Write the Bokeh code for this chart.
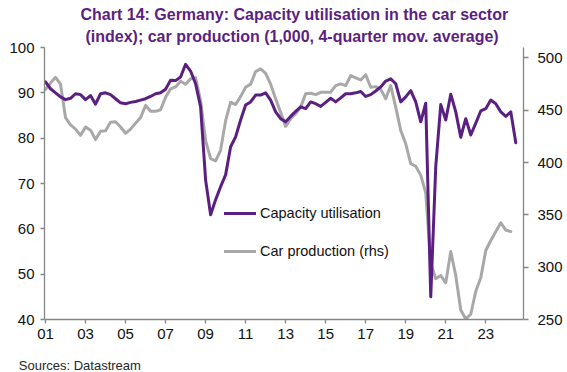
from bokeh.plotting import figure
from bokeh.models import (Range1d, LinearAxis, FixedTicker, Legend, Title,
                          LegendItem, ColumnDataSource)
from bokeh.embed import file_html
from bokeh.resources import INLINE

# ---------------- data (quarterly, from 2001 Q1) ----------------
start_year = 2001
capacity_utilisation = [
    92.4, 90.9, 90.0, 89.1, 88.5, 88.8, 89.8, 89.6, 88.5, 89.4,
    87.5, 89.8, 90.0, 89.6, 88.7, 87.8, 87.6, 87.9, 88.1, 88.4,
    88.7, 89.2, 89.8, 90.0, 90.8, 92.8, 92.7, 93.5, 96.3, 94.8,
    92.0, 86.9, 70.8, 63.1, 66.4, 69.3, 71.9, 78.1, 80.3, 84.0,
    87.3, 88.0, 89.5, 89.5, 90.0, 88.4, 85.8, 84.3, 83.6, 84.8,
    85.9, 86.9, 86.5, 88.0, 87.6, 87.0, 87.9, 88.8, 88.0, 88.9,
    89.8, 89.8, 90.0, 90.3, 89.2, 89.6, 90.4, 91.3, 92.6, 93.1,
    92.0, 88.0, 89.1, 90.5, 88.0, 83.6, 87.7, 45.0, 73.7, 87.4,
    84.0, 89.7, 85.8, 80.2, 84.3, 80.7, 83.3, 86.0, 86.5, 88.4,
    87.6, 85.8, 84.8, 85.8, 79.0,
]
car_production = [
    470.0, 476.0, 481.5, 475.0, 443.0, 436.0, 432.0, 426.0, 434.0, 431.0,
    422.0, 430.0, 430.5, 438.5, 439.0, 434.0, 428.0, 432.0, 437.7, 443.0,
    454.6, 449.0, 449.0, 450.5, 462.5, 470.5, 472.3, 477.7, 474.8, 480.0,
    481.0, 459.0, 421.0, 403.8, 401.6, 411.7, 440.0, 457.7, 455.5, 463.0,
    472.0, 475.0, 487.0, 489.5, 485.3, 475.0, 461.0, 448.0, 434.6, 442.0,
    446.7, 453.0, 465.7, 466.3, 465.0, 467.2, 467.3, 467.3, 473.6, 475.2,
    473.6, 483.1, 481.0, 479.0, 484.0, 472.0, 472.6, 470.0, 461.0, 473.6,
    453.0, 430.8, 418.0, 399.0, 396.5, 388.0, 371.0, 304.0, 289.0, 292.0,
    285.0, 315.0, 292.0, 259.0, 250.5, 255.0, 277.0, 290.0, 316.0, 325.5,
    334.0, 342.5, 335.5, 334.0,
]
x_tick_years = [2001, 2003, 2005, 2007, 2009, 2011, 2013, 2015, 2017, 2019, 2021, 2023]
x_tick_labels = ["01", "03", "05", "07", "09", "11", "13", "15", "17", "19", "21", "23"]
left_ticks = [40, 50, 60, 70, 80, 90, 100]
right_ticks = [250, 300, 350, 400, 450, 500]
title_lines = ["Chart 14: Germany: Capacity utilisation in the car sector",
               "(index); car production (1,000, 4-quarter mov. average)"]
source_text = "Sources: Datastream"
legend_labels = ["Capacity utilisation", "Car production (rhs)"]

cap_dates = [start_year + i / 4 for i in range(len(capacity_utilisation))]
prod_dates = [start_year + i / 4 for i in range(len(car_production))]

PURPLE = "#5B1F82"
GREY = "#A8A8A8"
AXIS = "#868686"
FONT = "Liberation Sans"

p = figure(width=567, height=372, output_backend="svg", toolbar_location=None,
           title=None,
           x_range=Range1d(2000.95, 2024.885), y_range=Range1d(40, 100),
           min_border_left=44, min_border_right=44, min_border_top=47,
           min_border_bottom=52)
p.outline_line_color = None
p.xgrid.visible = False
p.ygrid.visible = False
p.background_fill_color = "white"
p.border_fill_color = "white"

p.extra_y_ranges = {"rhs": Range1d(250, 510)}
right_axis = LinearAxis(y_range_name="rhs", ticker=FixedTicker(ticks=right_ticks))
p.add_layout(right_axis, "right")

p.xaxis.ticker = FixedTicker(ticks=x_tick_years)
p.xaxis.major_label_overrides = {y: l for y, l in zip(x_tick_years, x_tick_labels)}
p.yaxis[0].ticker = FixedTicker(ticks=left_ticks)

for ax in [p.xaxis[0], p.yaxis[0], right_axis]:
    ax.axis_line_color = AXIS
    ax.axis_line_width = 1.3
    ax.major_tick_line_color = AXIS
    ax.major_tick_line_width = 1.3
    ax.minor_tick_line_color = None
    ax.major_tick_in = 0
    ax.major_tick_out = 4
    ax.major_label_text_font = FONT
    ax.major_label_text_font_size = "15px"
    ax.major_label_text_color = "#111111"
p.xaxis[0].major_label_standoff = 5
p.yaxis[0].major_label_standoff = 6
right_axis.major_tick_out = 5
right_axis.major_label_standoff = 9
# blank axis label used only as vertical spacing above the source note
p.xaxis[0].axis_label = " "
p.xaxis[0].axis_label_text_font_size = "8px"
p.xaxis[0].axis_label_standoff = 2

src_prod = ColumnDataSource(dict(x=prod_dates, y=car_production))
src_cap = ColumnDataSource(dict(x=cap_dates, y=capacity_utilisation))
r_prod = p.line("x", "y", source=src_prod, y_range_name="rhs", line_color=GREY,
                line_width=3, line_join="round", line_cap="round")
r_cap = p.line("x", "y", source=src_cap, line_color=PURPLE,
               line_width=3, line_join="round", line_cap="round")

legend = Legend(items=[LegendItem(label=legend_labels[0], renderers=[r_cap]),
                       LegendItem(label=legend_labels[1], renderers=[r_prod])],
                location=(180, 58))
legend.glyph_width = 32
legend.glyph_height = 20
legend.label_height = 20
legend.spacing = 18
legend.padding = 0
legend.margin = 0
legend.label_standoff = 4
legend.border_line_color = None
legend.background_fill_alpha = 0
legend.label_text_font = FONT
legend.label_text_font_size = "14.5px"
legend.label_text_color = "#111111"
p.add_layout(legend)

# title: second line nearest the frame, first line above it
t2 = Title(text=title_lines[1], align="left", offset=41, standoff=6,
           text_font=FONT, text_font_style="bold", text_font_size="16px",
           text_color=PURPLE)
t1 = Title(text=title_lines[0], align="left", offset=36, standoff=0,
           text_font=FONT, text_font_style="bold", text_font_size="16px",
           text_color=PURPLE)
p.add_layout(t2, "above")
p.add_layout(t1, "above")

src_title = Title(text=source_text, align="left", offset=-25.7, standoff=0,
                  text_font=FONT, text_font_style="normal", text_font_size="13px",
                  text_color="#262626")
p.add_layout(src_title, "below")

open("out.html", "w").write(file_html(p, INLINE))
